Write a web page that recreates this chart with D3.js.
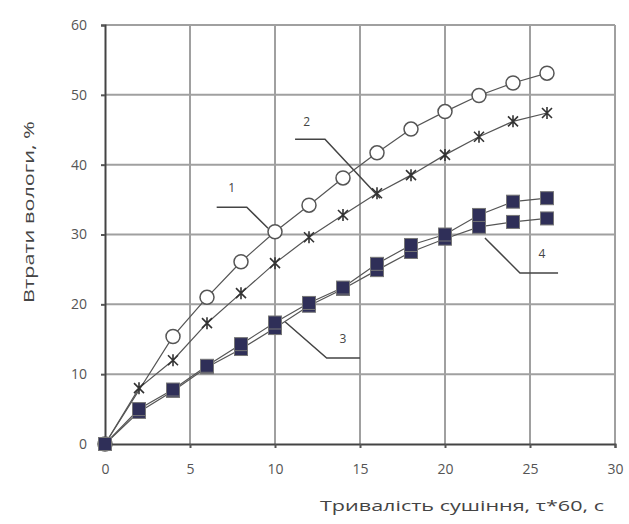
<!DOCTYPE html>
<html><head><meta charset="utf-8">
<script src="https://cdn.jsdelivr.net/npm/d3@7"></script>
<style>body{margin:0;background:#fff}svg{display:block}text{font-family:"Open Sans","DejaVu Sans",sans-serif}</style>
</head><body><svg id="c" width="629" height="524"></svg>
<script>
const xs = [0, 2, 4, 6, 8, 10, 12, 14, 16, 18, 20, 22, 24, 26];
const series1 = [0, null, 15.4, 21.0, 26.1, 30.4, 34.2, 38.1, 41.7, 45.1, 47.6, 49.9, 51.7, 53.1];
const series2 = [0, 8.0, 12.0, 17.3, 21.6, 25.9, 29.6, 32.8, 35.9, 38.5, 41.4, 44.0, 46.2, 47.4];
const series3 = [0, 5.0, 7.8, 11.2, 14.3, 17.4, 20.2, 22.4, 25.8, 28.5, 30.0, 32.8, 34.7, 35.2];
const series4 = [0, 4.6, 7.6, 11.0, 13.6, 16.6, 19.8, 22.2, 24.9, 27.5, 29.4, 31.1, 31.8, 32.3];
const xTicks = [0, 5, 10, 15, 20, 25, 30];
const yTicks = [0, 10, 20, 30, 40, 50, 60];
const xTitle = "Тривалість сушіння, τ*60, с";
const yTitle = "Втрати вологи, %";
// curve labels and leader lines, in data units
const labelNames = ["1", "2", "3", "4"];
const labelPos = [[7.45, 36.1], [11.86, 45.5], [14.0, 14.4], [25.7, 26.6]];
const leaderPts = [
  [[6.57, 33.9], [8.34, 33.9], [9.59, 30.9]],
  [[11.18, 43.65], [12.94, 43.65], [16.18, 35.2]],
  [[10.59, 17.5], [13.04, 12.3], [15.0, 12.3]],
  [[22.35, 29.5], [24.41, 24.5], [26.65, 24.5]]
];

const svg = d3.select("#c");
const x = d3.scaleLinear().domain([0, 30]).range([105, 615]);
const y = d3.scaleLinear().domain([0, 60]).range([444, 25]);

// grid
svg.append("g").selectAll("line").data(yTicks.slice(1)).join("line")
  .attr("x1", x(0)).attr("x2", x(30)).attr("y1", d => y(d)).attr("y2", d => y(d))
  .attr("stroke", "#a0a0a0").attr("stroke-width", 2);
svg.append("g").selectAll("line").data(xTicks.slice(1)).join("line")
  .attr("y1", y(0)).attr("y2", y(60)).attr("x1", d => x(d)).attr("x2", d => x(d))
  .attr("stroke", "#a0a0a0").attr("stroke-width", 2);

// axes
const xAxis = svg.append("g").attr("transform", `translate(0,${y(0)})`)
  .call(d3.axisBottom(x).tickValues(xTicks).tickSize(4).tickPadding(16));
const yAxis = svg.append("g").attr("transform", `translate(${x(0)},0)`)
  .call(d3.axisLeft(y).tickValues(yTicks).tickSize(4).tickPadding(14));
[xAxis, yAxis].forEach(a => {
  a.select(".domain").attr("stroke", "#444").attr("stroke-width", 2);
  a.selectAll(".tick line").attr("stroke", "#555").attr("stroke-width", 2);
  a.selectAll(".tick text").attr("fill", "#555").style("font-size", "14px").style("font-family", '"Open Sans", sans-serif');
});

// titles
svg.append("text").attr("x", 462).attr("y", 511).attr("text-anchor", "middle")
  .attr("fill", "#444").style("font-size", "15px").attr("textLength", 284).attr("lengthAdjust", "spacingAndGlyphs").text(xTitle);
svg.append("text").attr("transform", "translate(34,212) rotate(-90)").attr("text-anchor", "middle")
  .attr("fill", "#444").style("font-size", "15px").attr("textLength", 182).attr("lengthAdjust", "spacingAndGlyphs").text(yTitle);

const line = d3.line().x(d => x(d[0])).y(d => y(d[1]));
function pts(vals) { return xs.map((v, i) => [v, vals[i]]).filter(d => d[1] != null); }

// leaders
leaderPts.forEach(p => {
  svg.append("path").attr("d", line(p)).attr("fill", "none").attr("stroke", "#444").attr("stroke-width", 1.5);
});
svg.append("g").selectAll("text").data(labelNames).join("text")
  .attr("x", (d, i) => x(labelPos[i][0])).attr("y", (d, i) => y(labelPos[i][1]))
  .attr("text-anchor", "middle").attr("fill", "#444").style("font-size", "12px").text(d => d);

// series lines
[series1, series2, series4, series3].forEach(s => {
  svg.append("path").attr("d", line(pts(s))).attr("fill", "none").attr("stroke", "#555").attr("stroke-width", 1.2);
});

// circles
svg.append("g").selectAll("circle").data(pts(series1)).join("circle")
  .attr("cx", d => x(d[0])).attr("cy", d => y(d[1])).attr("r", 7)
  .attr("fill", "#fff").attr("stroke", "#555").attr("stroke-width", 1.5);
// stars
svg.append("g").selectAll("path").data(pts(series2)).join("path")
  .attr("transform", d => `translate(${x(d[0])},${y(d[1])})`)
  .attr("d", "M-5,-5L5,5M-5,5L5,-5M0,-6L0,6")
  .attr("stroke", "#333").attr("stroke-width", 1.6).attr("fill", "none");
// squares
[series4, series3].forEach(s => {
  svg.append("g").selectAll("rect").data(pts(s)).join("rect")
    .attr("x", d => x(d[0]) - 6.5).attr("y", d => y(d[1]) - 6.5).attr("width", 13).attr("height", 13)
    .attr("fill", "#2f2f58").attr("stroke", "#777").attr("stroke-width", 1);
});
</script></body></html>
